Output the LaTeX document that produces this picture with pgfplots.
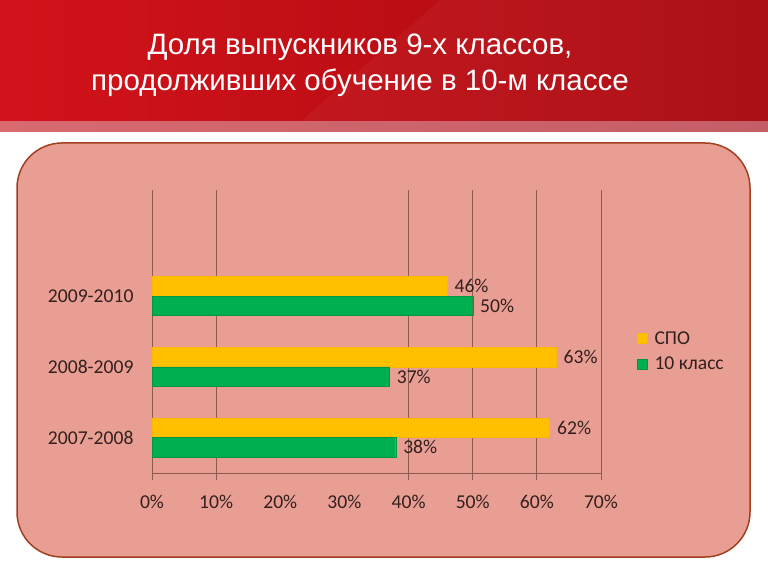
\documentclass[border=0pt]{standalone}
\usepackage{pgfplots}
\pgfplotsset{compat=1.18}
\usepackage{fontspec}
\setmainfont{Carlito}
\newfontfamily\titlefont{Liberation Sans}
\definecolor{hdrA}{HTML}{D3131B}
\definecolor{hdrB}{HTML}{A8080E}
\definecolor{bandA}{HTML}{D86A70}
\definecolor{bandB}{HTML}{C45E66}
\definecolor{panel}{HTML}{E99E94}
\definecolor{panelborder}{HTML}{A0401E}
\definecolor{gridc}{HTML}{8C5C50}
\definecolor{textc}{HTML}{33201E}
\definecolor{spo}{HTML}{FFC000}
\definecolor{klass}{HTML}{00B050}
\begin{document}
\begin{tikzpicture}
\useasboundingbox (0pt,0pt) rectangle (768pt,576pt);
\fill[white] (0pt,0pt) rectangle (768pt,576pt);
\shade[left color=hdrA, right color=hdrB] (0pt,454pt) rectangle (768pt,576pt);
\fill[white, opacity=0.04] (440pt,576pt) -- (768pt,576pt) -- (768pt,454pt) -- (300pt,454pt) -- cycle;
\shade[left color=bandA, right color=bandB] (0pt,444pt) rectangle (768pt,454pt);
\node[text=white, font=\titlefont\fontsize{29.5}{36}\selectfont, align=center] at (360pt,511pt) {Доля выпускников 9-х классов,\\продолживших обучение в 10-м классе};
\draw[rounded corners=45pt, fill=panel, draw=panelborder, line width=1.5pt] (17pt,19pt) rectangle (750pt,433pt);
\begin{axis}[
  at={(152pt,138.4pt)}, anchor=origin,
  scale only axis, width=449pt, height=283pt,
  xbar, bar width=19.5pt,
  xmin=0, xmax=70, ymin=-0.5, ymax=3.5,
  axis lines*=left,
  x axis line style={draw=gridc, line width=0.8pt, -},
  y axis line style={draw=none},
  ytick={0,1,2}, yticklabels={2007-2008,2008-2009,2009-2010},
  xtick={0,10,20,30,40,50,60,70},
  xticklabels={0\%,10\%,20\%,30\%,40\%,50\%,60\%,70\%},
  major tick length=0pt,
  extra x ticks={0,10,40,50,60,70}, extra x tick labels={},
  extra x tick style={xmajorgrids=true, major tick length=7pt, tick align=outside},
  major grid style={draw=gridc, line width=0.8pt},
  tick style={draw=gridc, line width=0.8pt},
  ticklabel style={font=\fontsize{19.6}{22}\selectfont, text=textc},
  xticklabel style={yshift=-19pt},
  yticklabel style={xshift=-15pt},
  point meta=x,
  /pgf/number format/assume math mode=true,
  nodes near coords={\pgfmathprintnumber{\pgfplotspointmeta}\%},
  every node near coord/.append style={font=\fontsize{19.6}{22}\selectfont, text=textc, anchor=west, xshift=4pt},
  legend image code/.code={\fill[#1] (0pt,-5pt) rectangle (10pt,5pt);},
  legend style={at={(axis description cs:1.08,0.43)}, anchor=west, draw=none, fill=none, font=\fontsize{19.6}{22}\selectfont, text=textc, row sep=7pt, inner sep=0pt, /tikz/every odd column/.append style={column sep=5pt}},
  legend cell align=left,
]
\addplot[fill=spo, draw=spo!85!orange, bar shift=9.75pt] coordinates {(62,0) (63,1) (46,2)};
\addplot[fill=klass, draw=klass!85!black, bar shift=-9.75pt] coordinates {(38,0) (37,1) (50,2)};
\legend{СПО,10 класс}
\end{axis}
\end{tikzpicture}
\end{document}
